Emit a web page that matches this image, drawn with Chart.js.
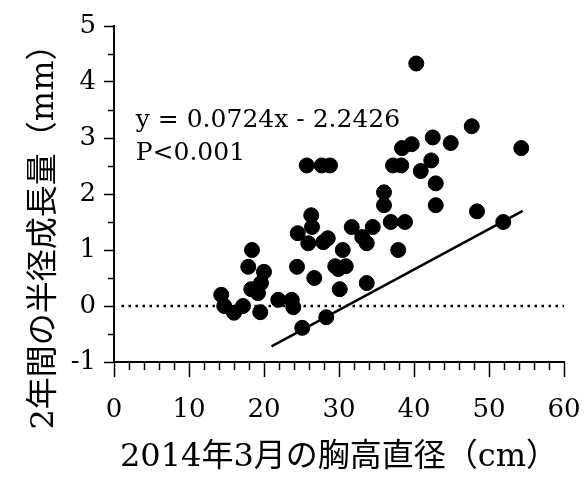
<!DOCTYPE html>
<html>
<head>
<meta charset="utf-8">
<script src="https://cdn.jsdelivr.net/npm/chart.js@4/dist/chart.umd.min.js"></script>
<style>
  body { margin: 0; background: #fff; }
  #wrap { width: 587px; height: 479px; }
</style>
</head>
<body>
<div id="wrap"><canvas id="chartGrowth"></canvas></div>
<script>
// 2014年3月の胸高直径 (cm) と 2年間の半径成長量 (mm)
const dbh = [14.3, 14.7, 16.0, 17.2, 18.4, 17.9, 20.0, 18.3, 19.6, 19.2, 19.5, 21.9, 23.7, 23.9, 25.1,
  28.3, 24.4, 26.7, 24.5, 25.9, 26.3, 26.4, 27.9, 28.5, 29.5, 30.1, 29.9, 30.9, 30.5, 31.7,
  33.1, 33.7, 33.7, 34.5, 36.0, 36.0, 36.9, 38.8, 37.9, 42.9, 42.9, 48.4, 51.9, 40.3, 25.7,
  27.7, 28.8, 37.2, 38.3, 47.7, 42.5, 44.9, 39.7, 38.4, 54.3, 42.3, 40.9];
const growth = [0.20, 0.00, -0.12, 0.00, 1.00, 0.70, 0.61, 0.30, 0.41, 0.23, -0.11, 0.11, 0.11, -0.02, -0.39,
  -0.20, 0.70, 0.50, 1.30, 1.12, 1.62, 1.41, 1.14, 1.21, 0.71, 0.30, 0.66, 0.71, 1.00, 1.41,
  1.23, 1.12, 0.41, 1.41, 2.03, 1.80, 1.50, 1.50, 1.00, 2.19, 1.80, 1.69, 1.50, 4.33, 2.51,
  2.51, 2.51, 2.51, 2.51, 3.21, 3.01, 2.91, 2.89, 2.82, 2.82, 2.60, 2.41];

// regression line ends
const fitX = [21, 54.5];
const fitY = [-0.72, 1.70];

// dotted zero line
const zeroX = [1, 60];
const zeroY = [0, 0];

const eqLines = ['y = 0.0724x - 2.2426', 'P<0.001'];
const xTitle = '2014年3月の胸高直径（cm）';
const yTitle = '2年間の半径成長量（mm）';

const serif = "'DejaVu Serif', 'Noto Sans CJK JP', serif";

const toPoints = (xs, ys) => xs.map((x, i) => ({x: x, y: ys[i]}));

const extras = {
  id: 'extras',
  afterDraw(chart) {
    const ctx = chart.ctx;
    const xs = chart.scales.x, ys = chart.scales.y;
    ctx.save();
    ctx.strokeStyle = '#000';
    ctx.lineWidth = 1.5;
    // minor ticks
    for (let v = 2; v < 60; v += 2) {
      if (v % 10 === 0) continue;
      const px = Math.round(xs.getPixelForValue(v)) + 0.5;
      ctx.beginPath();
      ctx.moveTo(px, xs.top);
      ctx.lineTo(px, xs.top + 8);
      ctx.stroke();
    }
    for (let v = -0.5; v < 5; v += 1) {
      const py = Math.round(ys.getPixelForValue(v)) + 0.5;
      ctx.beginPath();
      ctx.moveTo(ys.right - 6, py);
      ctx.lineTo(ys.right, py);
      ctx.stroke();
    }
    // regression text
    ctx.fillStyle = '#000';
    ctx.font = "25px " + serif;
    ctx.textAlign = 'left';
    ctx.textBaseline = 'alphabetic';
    ctx.fillText(eqLines[0], xs.getPixelForValue(2.9), ys.getPixelForValue(3.2));
    ctx.fillText(eqLines[1], xs.getPixelForValue(2.9), ys.getPixelForValue(2.6));
    // y title
    ctx.translate(45, 229);
    ctx.rotate(-Math.PI / 2);
    ctx.font = "32px " + serif;
    ctx.textAlign = 'center';
    ctx.textBaseline = 'middle';
    ctx.fillText(yTitle, 0, 0);
    ctx.restore();
  }
};

new Chart(document.getElementById('chartGrowth'), {
  type: 'scatter',
  data: {
    datasets: [
      {
        label: 'zero',
        type: 'line',
        data: toPoints(zeroX, zeroY),
        borderColor: '#000',
        borderWidth: 2.5,
        borderDash: [2.5, 4.5],
        pointRadius: 0
      },
      {
        label: 'fit',
        type: 'line',
        data: toPoints(fitX, fitY),
        borderColor: '#000',
        borderWidth: 2.5,
        pointRadius: 0
      },
      {
        label: 'trees',
        data: toPoints(dbh, growth),
        backgroundColor: '#000',
        borderColor: '#000',
        borderWidth: 1,
        pointRadius: 7.5
      }
    ]
  },
  options: {
    responsive: true,
    maintainAspectRatio: false,
    animation: false,
    layout: { padding: { left: 0, top: 26, right: 23, bottom: 0 } },
    plugins: {
      legend: { display: false },
      tooltip: { enabled: false }
    },
    scales: {
      x: {
        type: 'linear',
        min: 0,
        max: 60,
        afterFit(scale) {
          scale.height = 117;
          scale.paddingLeft = 0;
          scale.paddingRight = 0;
        },
        ticks: {
          stepSize: 10,
          color: '#000',
          padding: 18,
          font: { family: serif, size: 26 },
          maxRotation: 0
        },
        grid: {
          drawOnChartArea: false,
          drawTicks: true,
          tickLength: 15,
          tickColor: '#000',
          tickWidth: 1.5
        },
        border: { display: true, color: '#000', width: 2 },
        title: {
          display: true,
          text: xTitle,
          color: '#000',
          font: { family: serif, size: 32 },
          padding: { top: 0, bottom: 2 }
        }
      },
      y: {
        type: 'linear',
        min: -1,
        max: 5,
        afterFit(scale) { scale.width = 114; },
        ticks: {
          stepSize: 1,
          color: '#000',
          padding: 8,
          font: { family: serif, size: 26 }
        },
        grid: {
          drawOnChartArea: false,
          drawTicks: true,
          tickLength: 10,
          tickColor: '#000',
          tickWidth: 1.5
        },
        border: { display: true, color: '#000', width: 2 }
      }
    }
  },
  plugins: [extras]
});
</script>
</body>
</html>
